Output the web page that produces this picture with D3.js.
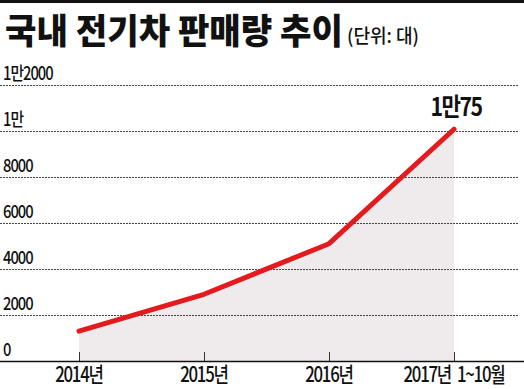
<!DOCTYPE html>
<html>
<head>
<meta charset="utf-8">
<script src="https://d3js.org/d3.v7.min.js"></script>
<style>
  body { margin: 0; background: #fff; }
  text { font-family: "Noto Sans CJK KR", sans-serif; fill: #111; }
</style>
</head>
<body>
<svg id="chart" width="524" height="389"></svg>
<script>
  // data
  const years = ["2014년", "2015년", "2016년", "2017년 1~10월"];
  const sales = [1300, 2900, 5100, 10075];
  const yTicks = [0, 2000, 4000, 6000, 8000, 10000, 12000];
  const yTickLabels = ["0", "2000", "4000", "6000", "8000", "1만", "1만2000"];
  const lastLabel = "1만75";

  const svg = d3.select("#chart");
  const width = 524;

  const x = d3.scalePoint().domain(years).range([79, 454]);
  const y = d3.scaleLinear().domain([0, 12000]).range([361, 85]);

  // squeeze text horizontally, like the condensed face of the original
  function squeeze(sel, cx, k) {
    sel.attr("transform", `translate(${cx},0) scale(${k},1) translate(${-cx},0)`);
  }

  // top rule
  svg.append("rect").attr("x", 0).attr("y", 0).attr("width", width).attr("height", 3).attr("fill", "#111");

  // title
  svg.append("text").attr("x", 5).attr("y", 44)
    .attr("font-size", 35).attr("font-weight", 900)
    .attr("textLength", 338).attr("lengthAdjust", "spacingAndGlyphs")
    .text("국내 전기차 판매량 추이");
  svg.append("text").attr("x", 347).attr("y", 43)
    .attr("font-size", 19).attr("font-weight", 500)
    .attr("textLength", 72).attr("lengthAdjust", "spacingAndGlyphs")
    .text("(단위: 대)");

  // area under line
  const area = d3.area()
    .x((d, i) => x(years[i]))
    .y0(y(0))
    .y1(d => y(d));
  svg.append("path").datum(sales).attr("d", area).attr("fill", "#efeaec");

  // gridlines + y labels
  yTicks.forEach((t, i) => {
    if (t > 0) {
      svg.append("line")
        .attr("x1", 0).attr("x2", 518)
        .attr("y1", y(t) + 0.5).attr("y2", y(t) + 0.5)
        .attr("stroke", "#444").attr("stroke-width", 1)
        .attr("stroke-dasharray", "2,1");
    }
    svg.append("text")
      .attr("x", 3).attr("y", y(t) - 5)
      .attr("font-size", 18).attr("font-weight", 500)
      .attr("letter-spacing", "-1.2")
      .call(squeeze, 3, 0.82)
      .text(yTickLabels[i]);
  });

  // x axis
  const xAxis = d3.axisBottom(x).tickSize(9).tickSizeOuter(0).tickFormat("");
  const gx = svg.append("g").attr("transform", `translate(0,${y(0)})`).call(xAxis);
  gx.select(".domain").remove();
  gx.selectAll(".tick line").attr("y1", -9).attr("y2", 0).attr("stroke", "#333");
  svg.append("line").attr("x1", 0).attr("x2", width)
    .attr("y1", y(0) + 0.5).attr("y2", y(0) + 0.5)
    .attr("stroke", "#111").attr("stroke-width", 1.5);

  years.forEach(yr => {
    svg.append("text")
      .attr("x", x(yr)).attr("y", 382)
      .attr("text-anchor", "middle")
      .attr("font-size", 21).attr("font-weight", 500)
      .attr("letter-spacing", "-1.5")
      .attr("word-spacing", "4")
      .call(squeeze, x(yr), 0.8)
      .text(yr);
  });

  // line
  const line = d3.line().x((d, i) => x(years[i])).y(d => y(d));
  svg.append("path").datum(sales).attr("d", line)
    .attr("fill", "none").attr("stroke", "#e31b1f")
    .attr("stroke-width", 5).attr("stroke-linecap", "round").attr("stroke-linejoin", "round");

  // last value label
  const lx = x(years[years.length - 1]) + 2;
  svg.append("text")
    .attr("x", lx).attr("y", y(sales[sales.length - 1]) - 13)
    .attr("text-anchor", "middle")
    .attr("font-size", 25).attr("font-weight", 700)
    .attr("letter-spacing", "-1.8")
    .call(squeeze, lx, 0.85)
    .text(lastLabel);
</script>
</body>
</html>
